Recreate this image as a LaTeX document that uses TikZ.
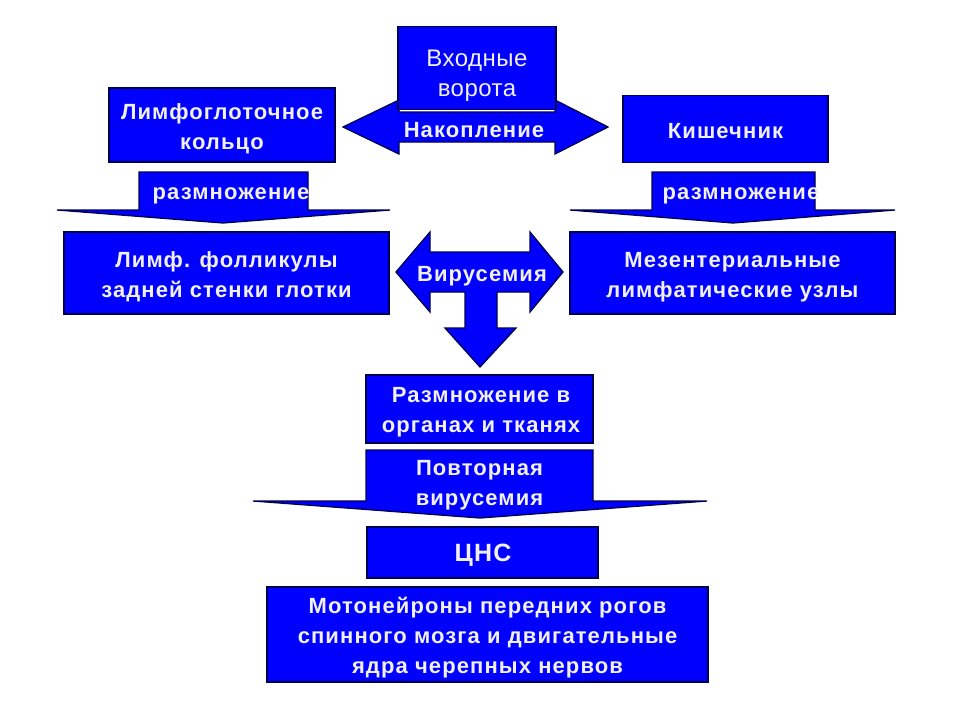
\documentclass[tikz,border=0pt]{standalone}
\usepackage{fontspec}
\setmainfont{Liberation Sans}[LetterSpace=5]
\newfontfamily\regfont{Liberation Sans}[LetterSpace=2]
\definecolor{boxblue}{RGB}{0,0,255}
\definecolor{boxline}{RGB}{0,0,80}
\definecolor{txt}{RGB}{240,240,246}
\tikzset{
  blk/.style={fill=boxblue, draw=boxline, line width=1.3pt, line join=miter},
  lbl/.style={text=txt, font=\fontsize{22}{30}\selectfont\bfseries, align=center, inner sep=0pt},
}
\begin{document}
\begin{tikzpicture}[x=1pt,y=-1pt]
\useasboundingbox (0,0) rectangle (960,720);
\fill[white] (0,0) rectangle (960,720);

% Накопление double arrow
\draw[blk] (343,127) -- (399,100) -- (399,112) -- (555,112) -- (555,100) -- (608,127)
  -- (555,154) -- (555,142) -- (399,142) -- (399,154) -- cycle;
\node[lbl] (nak) at (474,130) {Накопление};
% Входные ворота
\node[blk, minimum width=158pt, minimum height=83pt] (vv) at (477,68) {};
\node[text=txt, inner sep=0pt, font=\fontsize{24}{30}\selectfont\regfont, align=center] (vvt) at (477,76) {Входные\\ворота};

% Лимфоглоточное кольцо
\node[blk, minimum width=226pt, minimum height=74pt] (lk) at (222,125) {};
\node[lbl] (lkt) at (222,129) {Лимфоглоточное\\кольцо};
% Кишечник
\node[blk, minimum width=205pt, minimum height=67pt] (ki) at (725.5,129) {};
\node[lbl] (kit) at (725.5,131) {Кишечник};

% left размножение arrow
\draw[blk] (139,172) -- (308,172) -- (308,210) -- (390,210) -- (223,223) -- (57,210) -- (139,210) -- cycle;
\node[lbl] (rz1) at (231,196) {размножение};
% right размножение arrow
\draw[blk] (652,172) -- (815,172) -- (815,210) -- (895,210) -- (733,223) -- (570,210) -- (652,210) -- cycle;
\node[lbl] (rz2) at (741,196) {размножение};

% Лимф. фолликулы
\node[blk, minimum width=325pt, minimum height=82pt] (lf) at (226.5,273) {};
\node[lbl] (lft) at (226.5,277) {Лимф. фолликулы\\задней стенки глотки};
% Мезентериальные
\node[blk, minimum width=325pt, minimum height=82pt] (mz) at (732.5,273) {};
\node[lbl] (mzt) at (732.5,277) {Мезентериальные\\лимфатические узлы};

% Вирусемия three-way arrow
\draw[blk] (396,272) -- (430,232) -- (430,252) -- (530,252) -- (530,232) -- (563,272)
  -- (530,312) -- (530,292) -- (497,292) -- (497,328) -- (516,328) -- (480,367)
  -- (445,328) -- (465,328) -- (465,292) -- (430,292) -- (430,312) -- cycle;
\node[lbl] (vir) at (482,276) {Вирусемия};

% Размножение в органах и тканях
\node[blk, minimum width=227pt, minimum height=68pt] (ro) at (479.5,409) {};
\node[lbl] (rot) at (481,412) {Размножение в\\органах и тканях};

% Повторная вирусемия arrow
\draw[blk] (366,450) -- (593,450) -- (593,501) -- (707,501) -- (480,518) -- (253,501) -- (366,501) -- cycle;
\node[lbl] (pv) at (479.5,485) {Повторная\\вирусемия};

% ЦНС
\node[blk, minimum width=231pt, minimum height=51pt] (cns) at (482.5,552.5) {};
\node[text=txt, inner sep=0pt, font=\fontsize{25}{30}\selectfont\bfseries] (cnst) at (483,555) {ЦНС};

% Мотонейроны
\node[blk, minimum width=441pt, minimum height=95pt] (mn) at (487.5,634.5) {};
\node[lbl] (mnt) at (487.5,638) {Мотонейроны передних рогов\\спинного мозга и двигательные\\ядра черепных нервов};
\end{tikzpicture}
\end{document}
